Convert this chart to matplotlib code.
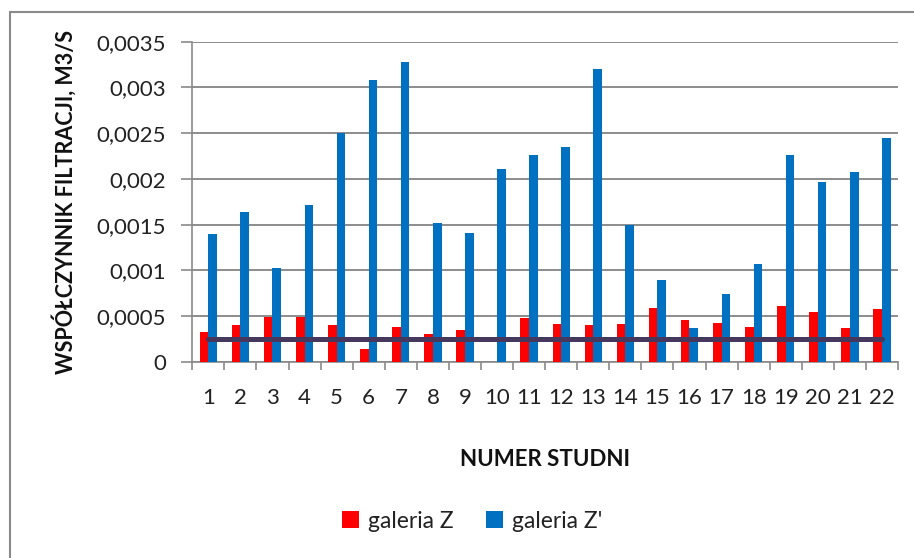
import matplotlib
matplotlib.use("Agg")
import matplotlib.pyplot as plt
import numpy as np
from matplotlib.patches import Rectangle

plt.rcParams['font.family'] = ['Lato', 'DejaVu Sans']

categories = [str(i) for i in range(1, 23)]
galeria_z = [0.000332, 0.000401, 0.000496, 0.000496, 0.000401, 0.000139, 0.000386,
             0.000303, 0.000347, 0.0, 0.000485, 0.000416, 0.000401, 0.000416,
             0.000594, 0.000456, 0.000430, 0.000386, 0.000609, 0.000550, 0.000372, 0.000580]
galeria_z2 = [0.00140, 0.001644, 0.00103, 0.001714, 0.002498, 0.003085, 0.003279,
              0.001524, 0.001415, 0.002112, 0.002261, 0.002349, 0.003198, 0.001499,
              0.000894, 0.000372, 0.000744, 0.001069, 0.002261, 0.001962, 0.002071, 0.002443]
threshold = 0.00025
yticks = [0, 0.0005, 0.001, 0.0015, 0.002, 0.0025, 0.003, 0.0035]
ytick_labels = ['0', '0,0005', '0,001', '0,0015', '0,002', '0,0025', '0,003', '0,0035']

fig = plt.figure(figsize=(9.14, 5.58), dpi=100)
# outer border (extends past the right and bottom edges)
fig.patches.append(Rectangle((10/914, -0.5), 2.0, 1.5 - 12/558,
                             transform=fig.transFigure, fill=False,
                             edgecolor='#8a8a8a', lw=1.5))

ax = fig.add_axes([192.3/914, 1 - 362/558, (898 - 192.3)/914, (362 - 41.7)/558])
x = np.arange(len(categories))
w = 0.27
ax.bar(x - w/2, galeria_z, width=w, color='#ff0000', label='galeria Z', zorder=3)
ax.bar(x + w/2, galeria_z2, width=w, color='#0070c0', label="galeria Z'", zorder=3)
ax.plot(x, [threshold]*len(x), color='#46385c', lw=3.6, zorder=4, solid_capstyle='round')

ax.set_xlim(-0.5, len(categories) - 0.5)
ax.set_ylim(0, 0.0035)
ax.set_yticks(yticks)
ax.set_yticklabels(ytick_labels)
ax.set_xticks(x)
ax.set_xticklabels(categories)
ax.set_xticks(np.arange(-0.5, len(categories)), minor=True)
ax.tick_params(axis='x', which='major', length=0, pad=19, labelsize=16, colors='#222222')
ax.tick_params(axis='x', which='minor', length=6, color='#8a8a8a', width=1.2, direction='out')
ax.tick_params(axis='y', length=8, color='#8a8a8a', width=1.2, labelsize=16, colors='#222222', pad=11)
ax.yaxis.grid(True, color='#8c8c8c', lw=1.4, zorder=0)
ax.set_axisbelow(True)
for s in ['top', 'right']:
    ax.spines[s].set_visible(False)
for s in ['left', 'bottom']:
    ax.spines[s].set_color('#8a8a8a')
    ax.spines[s].set_linewidth(1.2)

ax.set_ylabel('WSPÓŁCZYNNIK FILTRACJI, M3/S', fontsize=15.5, fontweight='bold', labelpad=14, color='#111111')
ax.set_xlabel('NUMER STUDNI', fontsize=16, fontweight='bold', labelpad=29, color='#111111')

leg = fig.legend(loc='center', bbox_to_anchor=(472/914, 1 - 521/558), ncol=2, frameon=False,
                 fontsize=16.5, handlelength=0.75, handleheight=0.75, columnspacing=1.4, handletextpad=0.4)
for t in leg.get_texts():
    t.set_color('#222222')

fig.savefig('out.png', dpi=100)
